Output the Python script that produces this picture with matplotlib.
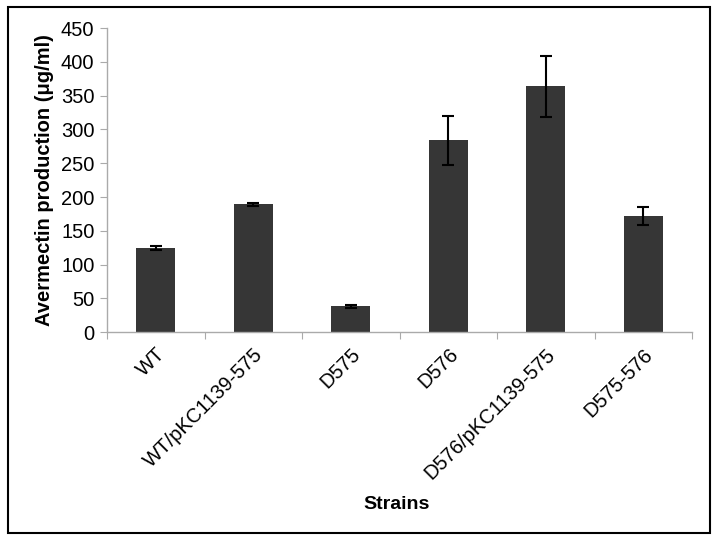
import matplotlib.pyplot as plt
from matplotlib.patches import Rectangle
from matplotlib.transforms import ScaledTranslation
import numpy as np

plt.rcParams['font.family'] = ['Liberation Sans', 'DejaVu Sans']

strains = ['WT', 'WT/pKC1139-575', 'D575', 'D576', 'D576/pKC1139-575', 'D575-576']
production = [124, 189, 38, 284, 364, 172]
errors = [3, 2, 2, 36, 45, 13]

fig = plt.figure(figsize=(7.18, 5.41), dpi=100)
ax = fig.add_axes([0.149, 0.386, 0.815, 0.562])

x = np.arange(len(strains))
ax.bar(x, production, width=0.4, color='#363636', zorder=2)
ax.errorbar(x, production, yerr=errors, fmt='none', ecolor='black',
            elinewidth=1.5, capsize=4, capthick=1.5, zorder=3)

ax.set_xlim(-0.5, len(strains) - 0.5)
ax.set_ylim(0, 450)
ax.set_yticks(np.arange(0, 451, 50))
ax.set_xticks(np.arange(-0.5, len(strains), 1.0))
ax.set_xticklabels([])
ax.set_xticks(x, minor=True)
ax.set_xticklabels(strains, minor=True, rotation=45, ha='right',
                   rotation_mode='anchor', fontsize=14.5)
# nudge the rotated labels a little to the left, like the original
shift = ScaledTranslation(-4 / 100, 0, fig.dpi_scale_trans)
for lbl in ax.get_xticklabels(minor=True):
    lbl.set_transform(lbl.get_transform() + shift)
ax.tick_params(axis='x', which='minor', length=0, pad=9)
ax.tick_params(axis='x', which='major', length=5, color='#aaaaaa', direction='out')
ax.tick_params(axis='y', length=5, color='#aaaaaa', labelsize=14.5, pad=4)

for s in ['top', 'right']:
    ax.spines[s].set_visible(False)
for s in ['left', 'bottom']:
    ax.spines[s].set_color('#aaaaaa')
    ax.spines[s].set_linewidth(1.0)

ax.set_ylabel('Avermectin production (μg/ml)', fontsize=14.5, fontweight='bold', labelpad=5)
fig.text(0.553, 0.067, 'Strains', fontsize=14, fontweight='bold', ha='center', va='center')

fig.patches.append(Rectangle((0.011, 0.015), 0.978, 0.972, transform=fig.transFigure,
                             fill=False, edgecolor='black', linewidth=1.5))

fig.savefig('out.png', dpi=100)
